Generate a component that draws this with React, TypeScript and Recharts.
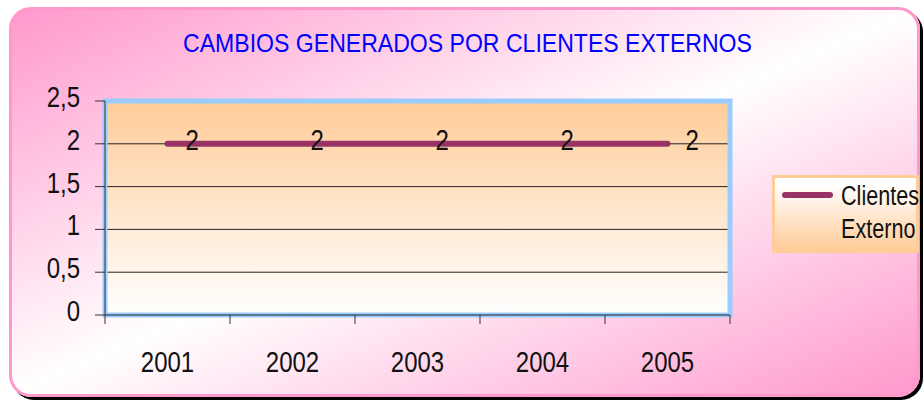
import {
  CartesianGrid,
  LabelList,
  Line,
  LineChart,
  ReferenceArea,
  XAxis,
  YAxis,
} from 'recharts';

const years = ['2001', '2002', '2003', '2004', '2005'];
const clientesExternos = [2, 2, 2, 2, 2];
const yTicks = [0, 0.5, 1, 1.5, 2, 2.5];
const seriesName = 'Clientes Externo';
const chartTitle = 'CAMBIOS GENERADOS POR CLIENTES EXTERNOS';

const FONT = '"Liberation Sans", Arial, sans-serif';
const LINE_COLOR = '#993366';
const NARROW = 0.8; // squeeze Liberation Sans to look like Arial Narrow

const data = years.map((year, i) => ({ year, value: clientesExternos[i] }));

// svg text squeezed horizontally around its anchor point
const NarrowText = ({ x, y, anchor = 'start', size = 30, children }: any) => (
  <text
    transform={`translate(${x},${y}) scale(${NARROW},1)`}
    textAnchor={anchor}
    fontSize={size}
    fill="#111"
  >
    {children}
  </text>
);

// year label centred in the band, tick marks on the band edges
const YearTick = (props: any) => {
  const { x, y, payload, index } = props;
  const half = payload?.offset ?? 62.5;
  const last = index === years.length - 1;
  return (
    <g>
      <line x1={x - half} x2={x - half} y1={y} y2={y + 9} stroke="#333" />
      {last && <line x1={x + half} x2={x + half} y1={y} y2={y + 9} stroke="#333" />}
      <NarrowText x={x} y={y + 57} anchor="middle">
        {payload.value}
      </NarrowText>
    </g>
  );
};

const ValueTick = (props: any) => {
  const { x, y, payload } = props;
  return (
    <NarrowText x={x} y={y + 6} anchor="end">
      {String(payload.value).replace('.', ',')}
    </NarrowText>
  );
};

const PointLabel = (props: any) => {
  const { x, y, value } = props;
  return (
    <NarrowText x={x + 18} y={y + 6}>
      {value}
    </NarrowText>
  );
};

export default function App() {
  return (
    <div
      style={{
        position: 'absolute',
        left: 0,
        top: 0,
        width: 923,
        height: 403,
        fontFamily: FONT,
        overflow: 'hidden',
      }}
    >
      {/* rounded pink frame */}
      <div
        style={{
          position: 'absolute',
          left: 9,
          top: 7,
          width: 911,
          height: 390,
          boxSizing: 'border-box',
          border: '3px solid #FF99CC',
          borderRadius: 22,
          background: 'linear-gradient(to bottom right, #FF99CC 0%, #FFFFFF 50%, #FF99CC 100%)',
          boxShadow: '3px 3px 0 #000',
        }}
      />
      <div
        style={{
          position: 'absolute',
          left: 0,
          top: 30,
          width: 935,
          textAlign: 'center',
          fontSize: 26.5,
          lineHeight: '26.5px',
          color: '#0000FF',
          whiteSpace: 'nowrap',
          transform: 'scaleX(0.87)',
        }}
      >
        {chartTitle}
      </div>

      <div style={{ position: 'absolute', left: 0, top: 0 }}>
        <LineChart
          width={923}
          height={403}
          data={data}
          margin={{ top: 101, right: 193, left: 45, bottom: 28 }}
        >
          <defs>
            <linearGradient id="plotFill" x1="0" y1="0" x2="0" y2="1">
              <stop offset="0%" stopColor="#FFCC99" />
              <stop offset="100%" stopColor="#FFFFFF" />
            </linearGradient>
          </defs>
          <CartesianGrid
            vertical={false}
            stroke="#222"
            fill="url(#plotFill)"
            fillOpacity={1}
          />
          <ReferenceArea
            y1={0}
            y2={2.5}
            fill="none"
            stroke="#99CCFF"
            strokeWidth={5}
            ifOverflow="visible"
          />
          <XAxis
            dataKey="year"
            scale="band"
            height={60}
            tickSize={0}
            tickMargin={0}
            tickLine={false}
            axisLine={{ stroke: '#222' }}
            tick={<YearTick />}
            interval={0}
          />
          <YAxis
            width={60}
            domain={[0, 2.5]}
            ticks={yTicks}
            tickSize={10}
            tickMargin={15}
            axisLine={{ stroke: '#333' }}
            tickLine={{ stroke: '#333' }}
            tick={<ValueTick />}
          />
          <Line
            dataKey="value"
            name={seriesName}
            stroke={LINE_COLOR}
            strokeWidth={6}
            strokeLinecap="round"
            dot={false}
            isAnimationActive={false}
          >
            <LabelList dataKey="value" content={<PointLabel />} />
          </Line>
        </LineChart>
      </div>

      {/* legend */}
      <div
        style={{
          position: 'absolute',
          left: 772,
          top: 175,
          width: 147,
          height: 78,
          boxSizing: 'border-box',
          border: '3px solid #FFCC99',
          background: 'linear-gradient(to bottom, #FFFFFF 10%, #FFCC99 100%)',
        }}
      >
        <div
          style={{
            position: 'absolute',
            left: 7,
            top: 14,
            width: 51,
            height: 6,
            borderRadius: 3,
            background: LINE_COLOR,
          }}
        />
        <div
          style={{
            position: 'absolute',
            left: 66,
            top: 2,
            width: 110,
            fontSize: 27,
            lineHeight: '33px',
            color: '#111',
            transform: `scaleX(${NARROW})`,
            transformOrigin: 'left top',
          }}
        >
          {seriesName}
        </div>
      </div>
    </div>
  );
}
